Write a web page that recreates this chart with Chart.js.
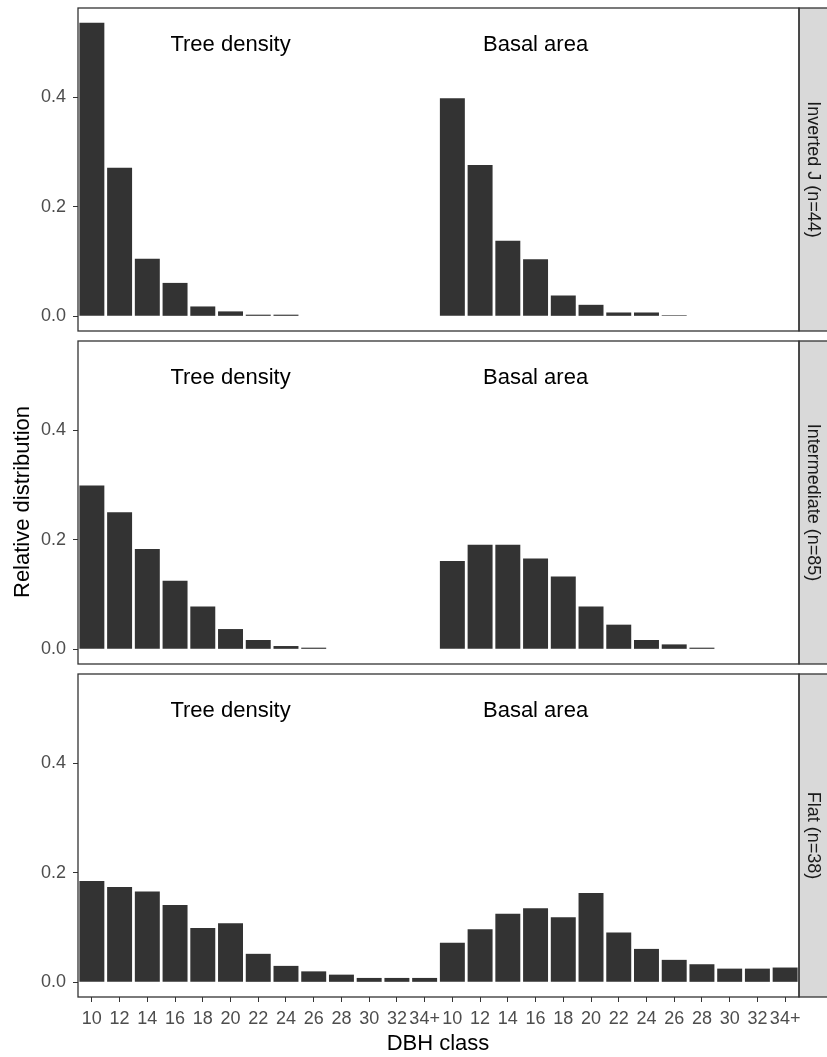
<!DOCTYPE html>
<html lang="en">
<head>
<meta charset="UTF-8">
<title>Relative distribution by DBH class</title>
<script src="https://cdn.jsdelivr.net/npm/chart.js"></script>
<style>
    body {
        margin: 0;
        background: #fff;
        font-family: 'Liberation Sans', Arial, sans-serif;
    }
    #wrap {
        position: relative;
        width: 827px;
        height: 1057px;
        overflow: hidden;
    }
    #wrap canvas {
        position: absolute;
        left: 0;
    }
    .axis-title {
        position: absolute;
        font-size: 22px;
        color: #000;
        white-space: nowrap;
    }
    #ytitle { left: 22px; top: 502px; transform: translate(-50%, -50%) rotate(-90deg); }
    #xtitle { left: 438px; top: 1043px; transform: translate(-50%, -50%); }
</style>
</head>
<body>
<div id="wrap">
    <canvas id="p1" width="827" height="333" style="top:0px"></canvas>
    <canvas id="p2" width="827" height="333" style="top:333px"></canvas>
    <canvas id="p3" width="827" height="371" style="top:666px"></canvas>
    <div class="axis-title" id="ytitle">Relative distribution</div>
    <div class="axis-title" id="xtitle">DBH class</div>
</div>
<script>
// DBH classes, used once for tree density and once for basal area
const dbhClasses = ['10', '12', '14', '16', '18', '20', '22', '24', '26', '28', '30', '32', '34+'];

const invertedDensity = [0.536, 0.271, 0.105, 0.061, 0.018, 0.009, 0.003, 0.003, 0, 0, 0, 0, 0];
const invertedBasal = [0.398, 0.276, 0.138, 0.104, 0.038, 0.021, 0.007, 0.007, 0.002, 0, 0, 0, 0];
const intermediateDensity = [0.299, 0.250, 0.183, 0.125, 0.078, 0.037, 0.017, 0.006, 0.003, 0, 0, 0, 0];
const intermediateBasal = [0.161, 0.191, 0.191, 0.166, 0.133, 0.078, 0.045, 0.017, 0.009, 0.003, 0, 0, 0];
const flatDensity = [0.185, 0.174, 0.166, 0.141, 0.099, 0.108, 0.052, 0.030, 0.020, 0.014, 0.008, 0.008, 0.008];
const flatBasal = [0.072, 0.097, 0.125, 0.135, 0.119, 0.163, 0.091, 0.061, 0.041, 0.033, 0.025, 0.025, 0.027];

const facetLabels = ['Inverted J (n=44)', 'Intermediate (n=85)', 'Flat (n=38)'];
const groupLabels = ['Tree density', 'Basal area'];
const groupLabelX = [5, 16];   // category index under each text label
const groupLabelY = 0.5;
const yTicks = [0, 0.2, 0.4];

const FONT = "'Liberation Sans', Arial, sans-serif";
const labels = dbhClasses.concat(dbhClasses);

// shared y range, padded 5% like ggplot
const allValues = [].concat(invertedDensity, invertedBasal, intermediateDensity,
    intermediateBasal, flatDensity, flatBasal);
const yPad = Math.max(...allValues) * 0.05;

// panel border, facet strip and the two group labels
const facetDecor = {
    id: 'facetDecor',
    afterDatasetsDraw(chart, args, opts) {
        const ctx = chart.ctx;
        const a = chart.chartArea;
        const x = chart.scales.x, y = chart.scales.y;
        ctx.save();
        ctx.fillStyle = '#000';
        ctx.font = '22px ' + FONT;
        ctx.textAlign = 'center';
        ctx.textBaseline = 'middle';
        groupLabels.forEach((t, i) => {
            // +3 so the glyphs (not the em box) sit centred on the value
            ctx.fillText(t, x.getPixelForValue(groupLabelX[i]), y.getPixelForValue(groupLabelY) + 3);
        });
        // strip
        ctx.fillStyle = '#d9d9d9';
        ctx.fillRect(a.right, a.top, chart.width - a.right, a.bottom - a.top);
        ctx.strokeStyle = '#333';
        ctx.lineWidth = 1.3;
        ctx.strokeRect(a.right, a.top, chart.width - a.right + 2, a.bottom - a.top);
        ctx.strokeRect(a.left, a.top, a.right - a.left, a.bottom - a.top);
        ctx.translate(a.right + (chart.width - a.right) / 2, (a.top + a.bottom) / 2);
        ctx.rotate(Math.PI / 2);
        ctx.fillStyle = '#1a1a1a';
        ctx.font = '18px ' + FONT;
        ctx.fillText(opts.label, 0, 0);
        ctx.restore();
    }
};

function makePanel(id, facet, density, basal, showX) {
    return new Chart(document.getElementById(id), {
        type: 'bar',
        data: {
            labels: labels,
            datasets: [{
                data: density.concat(basal),
                backgroundColor: '#333333',
                barPercentage: 0.9,
                categoryPercentage: 1.0
            }]
        },
        options: {
            responsive: false,
            animation: false,
            layout: { padding: { top: 8, right: 28, bottom: showX ? 0 : 2, left: 0 } },
            plugins: {
                legend: { display: false },
                tooltip: { enabled: false },
                facetDecor: { label: facetLabels[facet] }
            },
            scales: {
                x: {
                    display: showX,
                    offset: true,
                    border: { display: false },
                    grid: { drawOnChartArea: false, offset: false, tickLength: 5, color: '#333' },
                    ticks: {
                        autoSkip: false, maxRotation: 0, padding: 6,
                        color: '#4d4d4d', font: { family: FONT, size: 18 }
                    },
                    afterFit(s) {
                        if (showX) s.height = 40;
                        s.paddingLeft = 0;
                        s.paddingRight = 0;
                    }
                },
                y: {
                    min: -yPad,
                    max: Math.max(...allValues) + yPad,
                    border: { display: false },
                    grid: { drawOnChartArea: false, tickLength: 5, color: '#333' },
                    afterBuildTicks(s) { s.ticks = yTicks.map(v => ({ value: v })); },
                    ticks: {
                        padding: 7,
                        color: '#4d4d4d',
                        font: { family: FONT, size: 18 },
                        callback: v => v.toFixed(1)
                    },
                    afterFit(s) {
                        s.width = 78;
                        s.paddingTop = 0;
                        s.paddingBottom = 0;
                    }
                }
            }
        },
        plugins: [facetDecor]
    });
}

makePanel('p1', 0, invertedDensity, invertedBasal, false);
makePanel('p2', 1, intermediateDensity, intermediateBasal, false);
makePanel('p3', 2, flatDensity, flatBasal, true);
</script>
</body>
</html>
